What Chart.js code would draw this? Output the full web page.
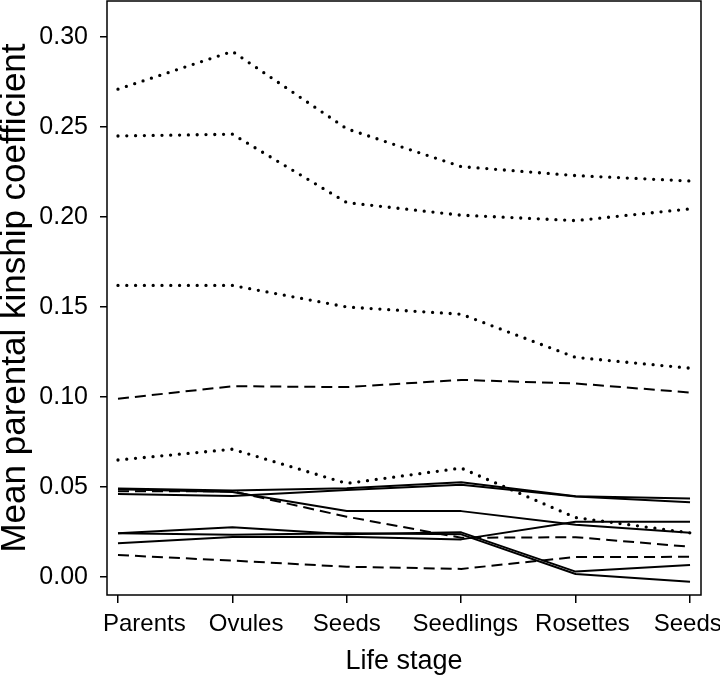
<!DOCTYPE html>
<html>
<head>
<meta charset="utf-8">
<script src="https://cdn.jsdelivr.net/npm/chart.js@4.4.1/dist/chart.umd.min.js"></script>
<style>
  html, body { margin: 0; padding: 0; background: #fff; }
  canvas { display: block; }
</style>
</head>
<body>
<canvas id="chart" width="720" height="680"></canvas>
<script>
// life stages on the x axis, y tick values
const stages = ['Parents', 'Ovules', 'Seeds', 'Seedlings', 'Rosettes', 'Seeds'];
const yTicks = [0, 0.05, 0.10, 0.15, 0.20, 0.25, 0.30];

// dotted lines
const dotted1 = [0.271, 0.292, 0.249, 0.228, 0.223, 0.220];
const dotted2 = [0.245, 0.246, 0.208, 0.201, 0.198, 0.2045];
const dotted3 = [0.162, 0.162, 0.150, 0.146, 0.122, 0.116];
const dotted4 = [0.065, 0.071, 0.052, 0.0605, 0.033, 0.0245];

// dashed lines
const dashed1 = [0.099, 0.106, 0.1055, 0.1095, 0.1075, 0.1025];
const dashed2 = [0.0477, 0.0476, 0.0335, 0.0218, 0.0221, 0.0168];
const dashed3 = [0.0122, 0.0091, 0.0057, 0.0045, 0.0111, 0.0112];

// solid lines
const solid1 = [0.0491, 0.0480, 0.0493, 0.0527, 0.0449, 0.0436];
const solid2 = [0.0461, 0.0450, 0.0483, 0.0512, 0.0447, 0.0415];
const solid3 = [0.0488, 0.0472, 0.0367, 0.0366, 0.0290, 0.0246];
const solid4 = [0.0243, 0.0276, 0.0238, 0.0248, 0.0030, 0.0067];
const solid5 = [0.0243, 0.0235, 0.0243, 0.0237, 0.0017, -0.0026];
const solid6 = [0.0187, 0.0222, 0.0224, 0.0209, 0.0307, 0.0307];

// --- styling ---
const font = "'Liberation Sans', Arial, Helvetica, sans-serif";
const xMin = -0.096, xMax = 5.096;
// the original labels sit a little off their ticks (x units)
const labelShift = [0.23, 0.12, 0, 0.035, 0.06, -0.02];

const lineStyles = {
  solid:  { borderWidth: 2, borderDash: [] },
  dashed: { borderWidth: 2, borderDash: [11, 6] },
  dotted: { borderWidth: 3.3, borderDash: [0, 8.8], borderCapStyle: 'round' }
};

const series = [
  [dotted1, 'dotted'], [dotted2, 'dotted'], [dotted3, 'dotted'], [dotted4, 'dotted'],
  [dashed1, 'dashed'], [dashed2, 'dashed'], [dashed3, 'dashed'],
  [solid1, 'solid'], [solid2, 'solid'], [solid3, 'solid'],
  [solid4, 'solid'], [solid5, 'solid'], [solid6, 'solid']
];

const datasets = series.map(([vals, lty]) => Object.assign({
  data: vals.map((v, i) => ({ x: i, y: v })),
  borderColor: '#000',
  borderJoinStyle: 'round',
  pointRadius: 0,
  fill: false,
  tension: 0
}, lineStyles[lty]));

// box around the plot region, like R's bty="o"
const boxPlugin = {
  id: 'box',
  afterDraw(chart) {
    const { ctx, chartArea: a } = chart;
    ctx.save();
    ctx.strokeStyle = '#000';
    ctx.lineWidth = 1.5;
    ctx.strokeRect(a.left, a.top, a.right - a.left, a.bottom - a.top);
    ctx.restore();
  }
};

const ctx = document.getElementById('chart').getContext('2d');
new Chart(ctx, {
  type: 'line',
  data: { datasets },
  options: {
    responsive: false,
    animation: false,
    devicePixelRatio: 1,
    layout: { padding: { top: 1, right: 19, bottom: 0, left: 0 } },
    plugins: { legend: { display: false }, tooltip: { enabled: false } },
    scales: {
      x: {
        type: 'linear', position: 'bottom', min: xMin, max: xMax, weight: 0,
        afterBuildTicks: s => { s.ticks = stages.map((_, i) => ({ value: i })); },
        afterFit: s => { s.height = 8; s.paddingLeft = 0; s.paddingRight = 0; },
        ticks: { display: false },
        grid: { drawOnChartArea: false, drawTicks: true, tickLength: 8, color: '#000', lineWidth: 1.5 },
        border: { display: false }
      },
      xl: {
        type: 'linear', position: 'bottom', min: xMin, max: xMax, weight: 1,
        afterBuildTicks: s => { s.ticks = stages.map((_, i) => ({ value: i + labelShift[i] })); },
        afterFit: s => { s.height = 77; s.paddingLeft = 0; s.paddingRight = 0; },
        ticks: {
          autoSkip: false, maxRotation: 0, minRotation: 0, padding: 7, color: '#000',
          font: { family: font, size: 24 },
          callback: (v, i) => stages[i]
        },
        grid: { display: false, drawTicks: false },
        border: { display: false },
        title: {
          display: true, text: 'Life stage', color: '#000',
          font: { family: font, size: 27 }, padding: { top: 0, bottom: 2 }
        }
      },
      y: {
        type: 'linear', min: -0.01, max: 0.32,
        afterBuildTicks: s => { s.ticks = yTicks.map(v => ({ value: v })); },
        afterFit: s => { s.width = 107; s.paddingTop = 0; s.paddingBottom = 0; },
        ticks: {
          padding: 12, color: '#000', font: { family: font, size: 25 },
          callback: v => Number(v).toFixed(2)
        },
        grid: { drawOnChartArea: false, drawTicks: true, tickLength: 7, color: '#000', lineWidth: 1.5 },
        border: { display: false },
        title: {
          display: true, text: 'Mean parental kinship coefficient', color: '#000',
          font: { family: font, size: 35, lineHeight: 0.88 }, padding: 0
        }
      }
    }
  },
  plugins: [boxPlugin]
});
</script>
</body>
</html>
